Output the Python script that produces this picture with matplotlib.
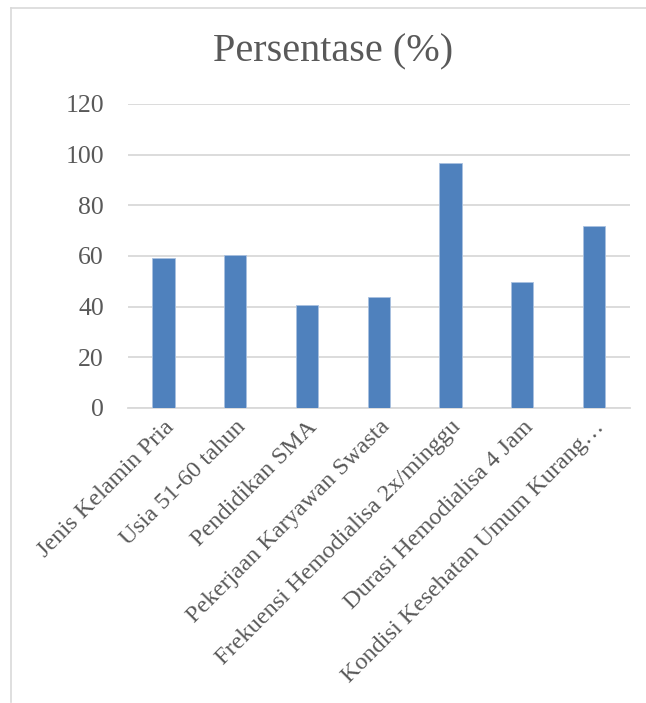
import matplotlib
matplotlib.use("Agg")
import matplotlib.pyplot as plt
from matplotlib.lines import Line2D

plt.rcParams.update({
    "font.family": ["Liberation Serif", "DejaVu Serif"],
})

categories = [
    "Jenis Kelamin Pria",
    "Usia 51-60 tahun",
    "Pendidikan SMA",
    "Pekerjaan Karyawan Swasta",
    "Frekuensi Hemodialisa 2x/minggu",
    "Durasi Hemodialisa 4 Jam",
    "Kondisi Kesehatan Umum Kurang…",
]
values = [59.3, 60.5, 40.5, 43.7, 96.8, 49.9, 71.8]
yticks = [0, 20, 40, 60, 80, 100, 120]

C_BAR = "#4f81bd"
C_GRID = "#d9d9d9"
C_TEXT = "#595959"

W, H = 646, 703
fig = plt.figure(figsize=(W / 100, H / 100), dpi=100, facecolor="white")

# chart frame (only top and left edges are visible in the crop)
fig.add_artist(Line2D([10.5 / W, 1], [1 - 7.5 / H, 1 - 7.5 / H],
                      color=C_GRID, lw=1.2, transform=fig.transFigure))
fig.add_artist(Line2D([10.5 / W, 10.5 / W], [1 - 7.5 / H, 0.002],
                      color=C_GRID, lw=1.2, transform=fig.transFigure))

left, right, top, bottom = 127.6, 630, 104, 408
ax = fig.add_axes([left / W, 1 - bottom / H, (right - left) / W, (bottom - top) / H])

x = range(len(categories))
ax.bar(x, values, width=0.31, color=C_BAR, edgecolor="#a9c1e0", linewidth=0.6, zorder=3)
ax.set_xlim(-0.5, len(categories) - 0.5)
ax.set_ylim(0, 120)
ax.set_yticks(yticks)
ax.yaxis.grid(True, color=C_GRID, lw=1.3, zorder=0)
for s in ["top", "right", "left"]:
    ax.spines[s].set_visible(False)
ax.spines["bottom"].set_color(C_GRID)
ax.spines["bottom"].set_linewidth(1.3)
ax.tick_params(axis="both", length=0, colors=C_TEXT, labelsize=18.5)
ax.tick_params(axis="y", pad=17)
ax.set_xticks(list(x))
ax.set_xticklabels(categories, rotation=45, ha="right", va="top",
                   rotation_mode="anchor", fontsize=17.5, color=C_TEXT)
ax.tick_params(axis="x", pad=6)

fig.text(333 / W, 1 - 52 / H, "Persentase (%)", ha="center", va="center",
         fontsize=29, color=C_TEXT)

fig.savefig("out.png", dpi=100, facecolor="white")
